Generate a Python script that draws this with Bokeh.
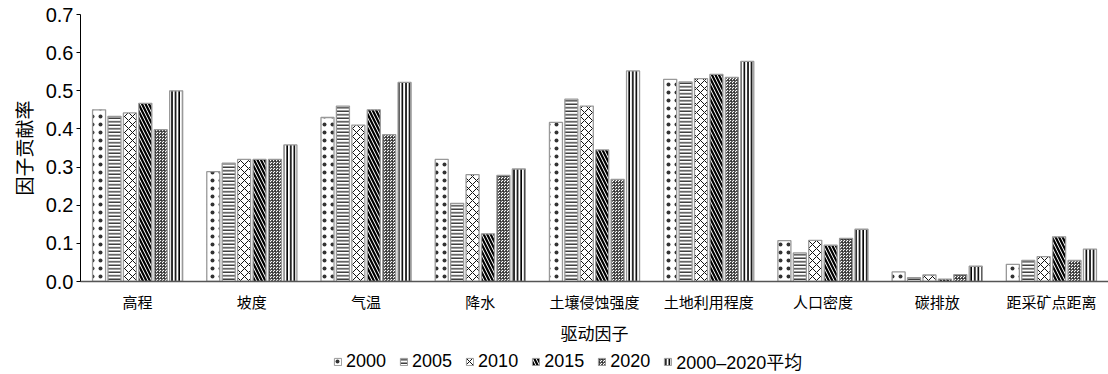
from bokeh.plotting import figure
from bokeh.layouts import column
from bokeh.models import ColumnDataSource, FactorRange, Legend, LegendItem, NumeralTickFormatter, FixedTicker
from bokeh.transform import dodge
from bokeh.embed import file_html
from bokeh.resources import INLINE

categories = ["高程", "坡度", "气温", "降水", "土壤侵蚀强度", "土地利用程度", "人口密度", "碳排放", "距采矿点距离"]
series_names = ["2000", "2005", "2010", "2015", "2020", "2000–2020平均"]
v2000 = [0.450, 0.288, 0.430, 0.320, 0.417, 0.530, 0.107, 0.025, 0.045]
v2005 = [0.433, 0.310, 0.460, 0.205, 0.478, 0.523, 0.075, 0.010, 0.055]
v2010 = [0.442, 0.320, 0.410, 0.280, 0.460, 0.532, 0.108, 0.017, 0.065]
v2015 = [0.467, 0.320, 0.450, 0.125, 0.345, 0.543, 0.095, 0.006, 0.117]
v2020 = [0.398, 0.320, 0.385, 0.278, 0.268, 0.535, 0.113, 0.018, 0.055]
vavg = [0.500, 0.358, 0.522, 0.295, 0.552, 0.577, 0.137, 0.040, 0.085]
y_ticks = [0.0, 0.1, 0.2, 0.3, 0.4, 0.5, 0.6, 0.7]

keys = ["s2000", "s2005", "s2010", "s2015", "s2020", "savg"]
source = ColumnDataSource(dict(cat=categories, s2000=v2000, s2005=v2005, s2010=v2010,
                               s2015=v2015, s2020=v2020, savg=vavg))

CJK = "Liberation Sans, Noto Sans CJK SC"

p = figure(x_range=FactorRange(*categories, range_padding=0), y_range=(0, 0.7),
           width=1108, height=346, frame_width=1028, frame_height=267,
           min_border_left=80, min_border_right=0, min_border_top=14, min_border_bottom=65,
           output_backend="svg", toolbar_location=None, background_fill_color="white")
p.outline_line_color = None
p.xgrid.grid_line_color = None
p.ygrid.grid_line_color = None

hatches = [
    dict(hatch_pattern="dot", hatch_scale=8, hatch_weight=0.5, hatch_color="#333333"),
    dict(hatch_pattern="horizontal_line", hatch_scale=3.5, hatch_weight=1.2, hatch_color="#111111"),
    dict(hatch_pattern="diagonal_cross", hatch_scale=8, hatch_weight=1.0, hatch_color="#111111"),
    dict(hatch_pattern="left_diagonal_line", hatch_scale=7, hatch_weight=2.2, hatch_color="black"),
    dict(hatch_pattern="criss_cross", hatch_scale=3, hatch_weight=0.8, hatch_color="#333333"),
    dict(hatch_pattern="vertical_line", hatch_scale=3.6, hatch_weight=1.6, hatch_color="black"),
]
pitch = 0.135
width = 0.114
for i, k in enumerate(keys):
    off = (i - 2.5) * pitch
    p.vbar(x=dodge("cat", off, range=p.x_range), top=k, width=width, source=source,
           fill_color="white", line_color="#999999", line_width=1.3, **hatches[i])

# axes
p.yaxis.ticker = FixedTicker(ticks=y_ticks)
p.yaxis.formatter = NumeralTickFormatter(format="0.0")
p.yaxis.major_label_text_font = "Liberation Sans"
p.yaxis.major_label_text_font_size = "20px"
p.yaxis.major_label_text_color = "black"
p.yaxis.major_tick_in = 0
p.yaxis.major_tick_out = 4
p.yaxis.major_tick_line_color = "black"
p.yaxis.minor_tick_line_color = None
p.yaxis.axis_line_color = "black"
p.yaxis.major_label_standoff = 3
p.yaxis.axis_label = "因子贡献率"
p.yaxis.axis_label_text_font = "Noto Sans CJK SC"
p.yaxis.axis_label_text_font_size = "19px"
p.yaxis.axis_label_text_color = "black"
p.yaxis.axis_label_text_font_style = "normal"
p.yaxis.axis_label_standoff = 6

p.xaxis.major_tick_line_color = None
p.xaxis.major_tick_out = 0
p.xaxis.major_tick_in = 0
p.xaxis.minor_tick_line_color = None
p.xaxis.axis_line_color = "#555555"
p.xaxis.axis_line_width = 1.5
p.xaxis.major_label_text_font = "Noto Sans CJK SC"
p.xaxis.major_label_text_font_size = "15px"
p.xaxis.major_label_text_color = "black"
p.xaxis.major_label_standoff = 9
p.xaxis.axis_label = "驱动因子"
p.xaxis.axis_label_text_font = "Noto Sans CJK SC"
p.xaxis.axis_label_text_font_size = "17px"
p.xaxis.axis_label_text_color = "black"
p.xaxis.axis_label_text_font_style = "normal"
p.xaxis.axis_label_standoff = 5

# legend strip (swatch renderers sit outside the visible range)
lg = figure(width=1108, height=28, x_range=(0, 1), y_range=(0, 1),
            x_axis_location=None, y_axis_location=None,
            min_border=0, output_backend="svg", toolbar_location=None)
lg.outline_line_color = None
lg.grid.grid_line_color = None
hidden = ColumnDataSource(dict(x=[10.0], top=[10.0]))
lrs = []
for i in range(6):
    lrs.append(lg.vbar(x="x", top="top", bottom=9.0, width=0.1, source=hidden,
                       fill_color="white", line_color="#999999", line_width=1.0, **hatches[i]))
legend = Legend(items=[LegendItem(label=series_names[i], renderers=[lrs[i]]) for i in range(6)],
                orientation="horizontal", location=(253, 1),
                glyph_width=9, glyph_height=9, spacing=13, label_standoff=4,
                label_text_font=CJK, label_text_font_size="18px", label_text_color="black",
                label_height=18, label_width=10,
                border_line_color=None, background_fill_alpha=0,
                padding=0, margin=0)
lg.add_layout(legend, "center")

open("out.html", "w").write(file_html(column(p, lg, spacing=0), INLINE))
